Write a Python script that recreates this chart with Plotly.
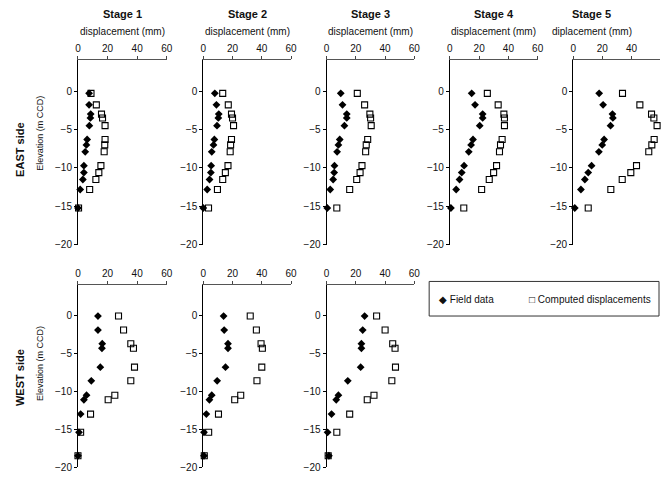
import plotly.graph_objects as go

W, H = 666, 482

# Elevations (m CCD) of the inclinometer readings
east_elev = [-0.3, -1.8, -3.0, -3.5, -4.5, -6.3, -7.0, -7.9, -9.7, -10.6, -11.5, -12.8, -15.2]
west_elev = [-0.05, -1.9, -3.7, -4.3, -6.8, -8.6, -10.5, -11.1, -13.0, -15.4, -18.5]

# EAST side displacements (mm)
east_field = {
    1: [7.5, 7.5, 8.6, 8.4, 7.7, 6.2, 5.7, 4.9, 4.0, 4.0, 3.3, 1.5, 0.0],
    2: [7.9, 9.0, 10.6, 10.3, 9.4, 7.6, 7.0, 5.8, 5.4, 5.2, 4.3, 2.7, 0.0],
    3: [9.7, 10.9, 13.8, 13.8, 12.2, 9.0, 8.1, 7.2, 5.4, 5.2, 4.5, 2.5, 0.5],
    4: [14.9, 17.2, 22.4, 22.4, 20.4, 15.8, 14.5, 12.9, 9.7, 8.1, 6.6, 4.3, 0.7],
    5: [17.8, 20.5, 26.9, 27.2, 25.6, 21.2, 19.9, 17.6, 12.6, 10.3, 8.0, 5.3, 1.1],
}
east_computed = {
    1: [8.8, 12.4, 15.9, 16.6, 18.3, 18.3, 18.1, 17.7, 15.5, 14.1, 12.1, 7.9, 0.4],
    2: [13.3, 17.1, 19.3, 20.0, 20.7, 19.3, 18.7, 18.4, 16.9, 15.1, 13.3, 9.7, 3.6],
    3: [21.0, 26.0, 29.6, 30.1, 30.5, 28.1, 27.1, 26.7, 24.2, 22.9, 20.6, 15.8, 7.0],
    4: [25.6, 33.0, 36.9, 37.3, 37.3, 35.7, 34.6, 33.9, 31.9, 29.9, 26.9, 21.7, 9.5],
    5: [33.8, 45.7, 53.7, 55.3, 57.5, 55.5, 53.9, 51.8, 43.4, 39.5, 33.6, 25.8, 10.3],
}

# WEST side displacements (mm)
west_field = {
    1: [13.5, 13.5, 16.4, 16.2, 15.1, 9.0, 5.8, 4.0, 1.8, 0.7, 0.0],
    2: [13.9, 14.3, 16.9, 16.9, 15.2, 9.5, 5.8, 4.2, 2.1, 0.5, 0.5],
    3: [26.0, 24.7, 23.8, 23.8, 23.3, 14.5, 8.1, 6.6, 3.4, 0.7, 1.6],
}
west_computed = {
    1: [27.4, 30.8, 35.7, 37.5, 38.2, 35.7, 24.9, 20.4, 8.5, 1.8, 0.0],
    2: [32.1, 36.3, 39.5, 40.4, 40.0, 36.7, 25.6, 21.5, 10.4, 3.7, 0.7],
    3: [34.2, 40.0, 45.2, 46.8, 47.1, 44.6, 32.4, 27.8, 15.8, 7.0, 1.1],
}

stage_titles = ["Stage 1", "Stage 2", "Stage 3", "Stage 4", "Stage 5"]
x_titles = ["displacement (mm)"] * 4 + ["diplacement (mm)"]
x_ticks = [0, 20, 40, 60]
y_ticks = [0, -5, -10, -15, -20]

FONT = "Arial, Liberation Sans, sans-serif"

# panel placement in pixels: (left, right) for columns, (top, bottom) for rows
col_px = [(76, 166), (203, 292), (328, 417), (453, 542), (578, 666)]
row_px = [(61, 248), (289, 473)]


def fx(px):
    return px / W


def fy(py):
    return 1 - py / H


def label(text, x, y, size, angle=0, anchor="center"):
    return dict(text=text, x=fx(x), y=fy(y), xref="paper", yref="paper",
                xanchor=anchor, yanchor="middle", showarrow=False,
                textangle=angle, font=dict(family=FONT, size=size, color="#111"))


fig = go.Figure()
layout = {}
annotations = []

panels = []
for s in range(1, 6):
    panels.append((0, s, east_elev, east_field[s], east_computed[s]))
for s in range(1, 4):
    panels.append((1, s, west_elev, west_field[s], west_computed[s]))

for i, (row, s, elev, field, comp) in enumerate(panels, start=1):
    xa = "x" if i == 1 else f"x{i}"
    ya = "y" if i == 1 else f"y{i}"
    l, r = col_px[s - 1]
    t, b = row_px[row]
    xmax = 59.5 if (row == 0 and s == 5) else 60

    fig.add_trace(go.Scatter(
        x=field, y=elev, mode="markers", xaxis=xa, yaxis=ya,
        marker=dict(symbol="diamond", size=6, color="black"),
        showlegend=False, cliponaxis=False,
    ))
    fig.add_trace(go.Scatter(
        x=comp, y=elev, mode="markers", xaxis=xa, yaxis=ya,
        marker=dict(symbol="square-open", size=6, color="black",
                    line=dict(width=1.1, color="black")),
        showlegend=False, cliponaxis=False,
    ))

    xkey = "xaxis" if i == 1 else f"xaxis{i}"
    ykey = "yaxis" if i == 1 else f"yaxis{i}"
    layout[xkey] = dict(
        domain=[fx(l), fx(r)], anchor=ya, side="top", range=[0, xmax],
        tickvals=x_ticks, ticks="outside", ticklen=3, tickcolor="#444",
        showline=True, linecolor="#555", linewidth=1, showgrid=False,
        zeroline=False, fixedrange=True,
        tickfont=dict(family=FONT, size=10, color="#111"),
    )
    layout[ykey] = dict(
        domain=[fy(b), fy(t)], anchor=xa, range=[-20, 4],
        tickvals=y_ticks, ticks="outside", ticklen=3, tickcolor="black",
        showline=True, linecolor="black", linewidth=1, showgrid=False,
        zeroline=False, fixedrange=True,
        tickfont=dict(family=FONT, size=10, color="#111"),
    )

    if row == 0:
        cx = (l + r) / 2 if s < 5 else 597
        annotations.append(label(f"<b>{stage_titles[s - 1]}</b>", cx, 14, 11))
        annotations.append(label(x_titles[s - 1], cx, 32, 10))

# side labels
annotations.append(label("<b>EAST side</b>", 17, 152, 11, angle=-90))
annotations.append(label("<b>WEST side</b>", 17, 382, 11, angle=-90))
annotations.append(label("Elevation (m CCD)", 38, 135, 9, angle=-90))
annotations.append(label("Elevation (m CCD)", 38, 368, 9, angle=-90))

# legend box
shapes = [dict(type="rect", xref="paper", yref="paper",
               x0=fx(432), x1=fx(665), y0=fy(320), y1=fy(285),
               line=dict(color="#333", width=1), fillcolor="white")]
annotations.append(label("◆ Field data", 440, 303, 10, anchor="left"))
annotations.append(label("□ Computed displacements", 531, 303, 10, anchor="left"))

fig.update_layout(
    width=W, height=H, margin=dict(l=0, r=0, t=0, b=0),
    paper_bgcolor="white", plot_bgcolor="white",
    annotations=annotations, shapes=shapes, showlegend=False,
    **layout,
)

fig.write_html("out.html", config={"displayModeBar": False})
